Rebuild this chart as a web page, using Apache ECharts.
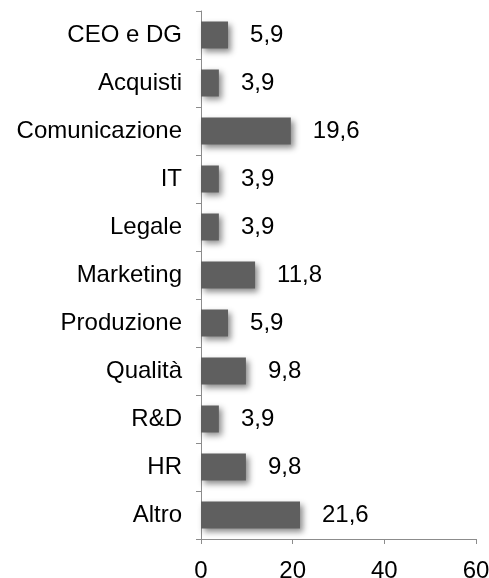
<!DOCTYPE html>
<html>
<head>
<meta charset="utf-8">
<script src="https://cdn.jsdelivr.net/npm/echarts@6/dist/echarts.min.js"></script>
<style>
  html, body { margin: 0; padding: 0; background: #ffffff; }
  #chart { width: 489px; height: 578px; }
</style>
</head>
<body>
<div id="chart"></div>
<script>
// top to bottom as shown
const categories = ['CEO e DG', 'Acquisti', 'Comunicazione', 'IT', 'Legale', 'Marketing', 'Produzione', 'Qualità', 'R&D', 'HR', 'Altro'];
const values = [5.9, 3.9, 19.6, 3.9, 3.9, 11.8, 5.9, 9.8, 3.9, 9.8, 21.6];
const xTicks = [0, 20, 40, 60];

const chart = echarts.init(document.getElementById('chart'));

const font = 'Liberation Sans, Arial, sans-serif';

const option = {
    backgroundColor: '#ffffff',
    animation: false,
    grid: {
        left: 201,
        right: 13,
        top: 11,
        bottom: 39,
        outerBoundsMode: 'none'
    },
    xAxis: {
        type: 'value',
        min: xTicks[0],
        max: xTicks[xTicks.length - 1],
        interval: 20,
        axisLine: { show: true, lineStyle: { color: '#8c8c8c', width: 1 } },
        axisTick: { show: true, length: 5, lineStyle: { color: '#8c8c8c' } },
        splitLine: { show: false },
        axisLabel: {
            color: '#000000',
            fontSize: 24,
            fontFamily: font,
            margin: 20
        }
    },
    yAxis: {
        type: 'category',
        inverse: true,
        data: categories,
        axisLine: { show: true, lineStyle: { color: '#8c8c8c', width: 1 } },
        axisTick: { show: true, length: 5, lineStyle: { color: '#8c8c8c' } },
        axisLabel: {
            color: '#000000',
            fontSize: 24,
            fontFamily: font,
            margin: 19
        }
    },
    series: [{
        type: 'bar',
        data: values,
        barWidth: 27,
        itemStyle: {
            color: '#5f5f5f',
            shadowColor: 'rgba(0,0,0,0.45)',
            shadowBlur: 6,
            shadowOffsetX: 3,
            shadowOffsetY: 3
        },
        label: {
            show: true,
            position: 'right',
            distance: 22,
            color: '#000000',
            fontSize: 24,
            fontFamily: font,
            formatter: p => p.value.toFixed(1).replace('.', ',')
        }
    }]
};

chart.setOption(option);
</script>
</body>
</html>
